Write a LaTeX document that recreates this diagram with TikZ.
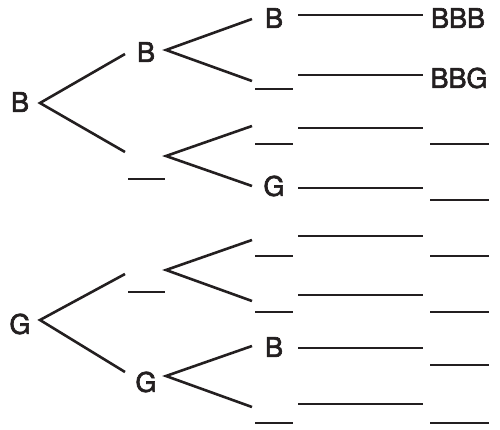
\documentclass[tikz,border=0pt]{standalone}
\usepackage{fontspec}
\setmainfont{TeX Gyre Heros}[FakeBold=2.5]
\definecolor{ink}{HTML}{231F20}
\tikzset{
  lbl/.style={inner sep=0pt, anchor=center, text=ink, font=\fontsize{27}{32}\selectfont},
  branch/.style={draw=ink, line width=2.6pt},
  slot/.style={draw=ink, line width=2.6pt},
  outline/.style={draw=ink, line width=2.6pt}
}
\begin{document}
\begin{tikzpicture}[x=1pt, y=-1pt]
\useasboundingbox (0,0) rectangle (500,429);

% ---------- first child: B ----------
\node[lbl] (rB) at (20,102) {B};
\coordinate (rBo) at (40,103);
\coordinate (bBi) at (125,54);
\coordinate (bSi) at (125,152);
\draw[branch] (bBi) -- (rBo) -- (bSi);

\node[lbl] (bB) at (146,52) {B};
\coordinate (bBo) at (166,50);
\draw[slot] (128,179) -- (165,179);
\coordinate (bSo) at (166,156);

\coordinate (t1) at (252,19);
\coordinate (t2) at (252,81);
\coordinate (t3) at (252,126);
\coordinate (t4) at (252,186);
\draw[branch] (t1) -- (bBo) -- (t2);
\draw[branch] (t3) -- (bSo) -- (t4);

% third-child entries, rows 1-4
\node[lbl] (c1) at (274,18) {B};
\draw[slot] (255,89) -- (293,89);
\draw[slot] (255,144) -- (293,144);
\node[lbl] (c4) at (274,186) {G};

% outcome lines and results
\coordinate (o1a) at (298,15);  \coordinate (o1b) at (423,15);
\coordinate (o2a) at (298,75);  \coordinate (o2b) at (423,75);
\coordinate (o3a) at (298,128); \coordinate (o3b) at (423,128);
\coordinate (o4a) at (298,188); \coordinate (o4b) at (423,188);
\draw[outline] (o1a) -- (o1b);
\draw[outline] (o2a) -- (o2b);
\draw[outline] (o3a) -- (o3b);
\draw[outline] (o4a) -- (o4b);
\node[lbl] (res1) at (458,18) {BBB};
\node[lbl] (res2) at (459,78) {BBG};
\draw[slot] (430,144) -- (489,144);
\draw[slot] (430,200) -- (489,200);

% ---------- first child: G ----------
\node[lbl] (rG) at (20,324) {G};
\coordinate (rGo) at (40,320);
\coordinate (gSi) at (125,274);
\coordinate (gGi) at (125,372);
\draw[branch] (gSi) -- (rGo) -- (gGi);

\draw[slot] (128,292) -- (165,292);
\coordinate (gSo) at (166,270);
\node[lbl] (gG) at (146,382) {G};
\coordinate (gGo) at (166,376);

\coordinate (t5) at (252,240);
\coordinate (t6) at (252,301);
\coordinate (t7) at (252,346);
\coordinate (t8) at (252,407);
\draw[branch] (t5) -- (gSo) -- (t6);
\draw[branch] (t7) -- (gGo) -- (t8);

% third-child entries, rows 5-8
\draw[slot] (255,256) -- (293,256);
\draw[slot] (255,312) -- (293,312);
\node[lbl] (c7) at (274,347) {B};
\draw[slot] (255,423) -- (293,423);

\coordinate (o5a) at (298,236); \coordinate (o5b) at (423,236);
\coordinate (o6a) at (298,295); \coordinate (o6b) at (423,295);
\coordinate (o7a) at (298,348); \coordinate (o7b) at (423,348);
\coordinate (o8a) at (298,404); \coordinate (o8b) at (423,404);
\draw[outline] (o5a) -- (o5b);
\draw[outline] (o6a) -- (o6b);
\draw[outline] (o7a) -- (o7b);
\draw[outline] (o8a) -- (o8b);
\draw[slot] (430,256) -- (489,256);
\draw[slot] (430,312) -- (489,312);
\draw[slot] (430,365) -- (489,365);
\draw[slot] (430,423) -- (489,423);
\end{tikzpicture}
\end{document}
